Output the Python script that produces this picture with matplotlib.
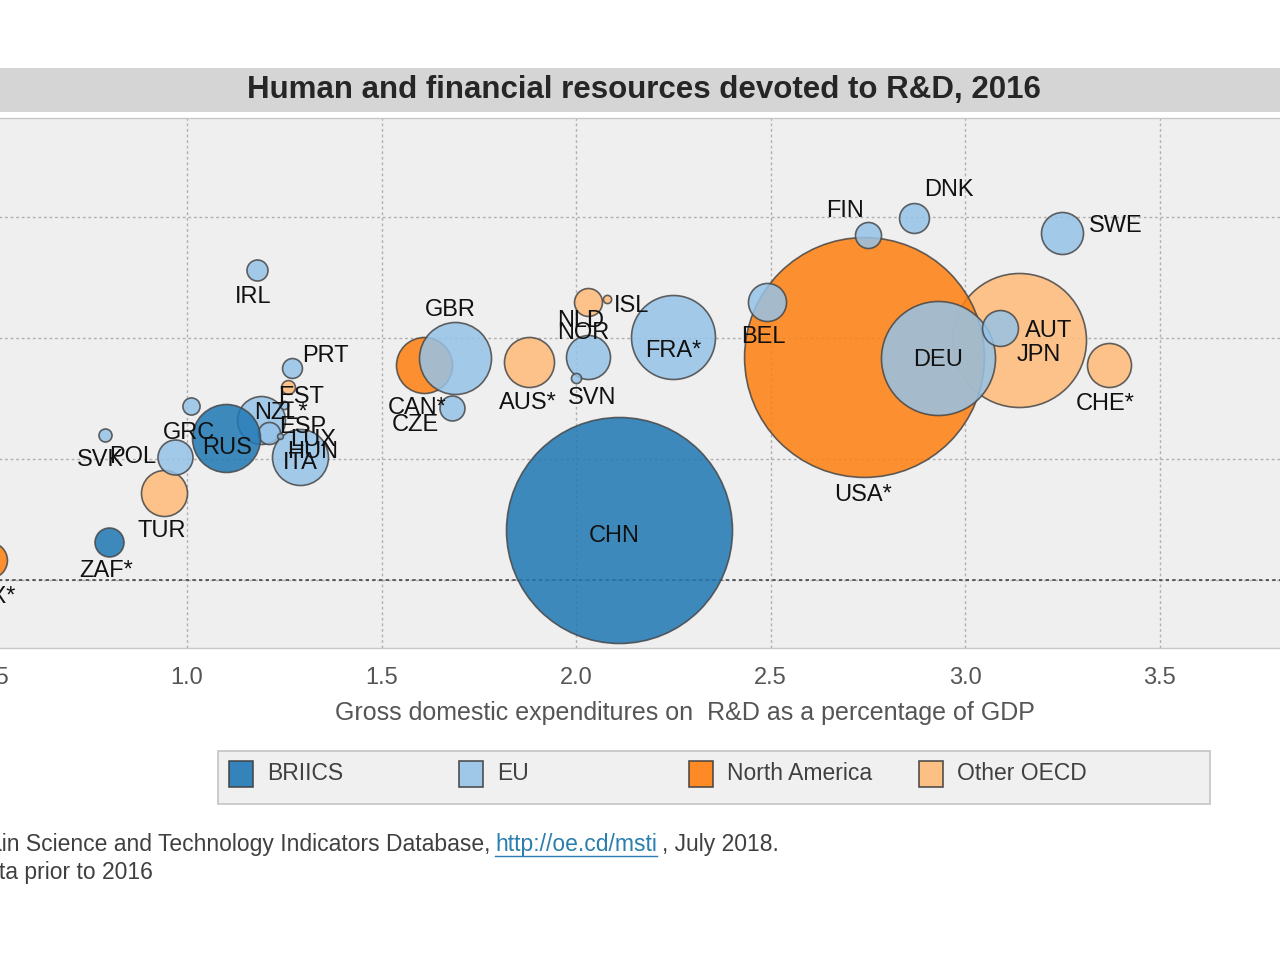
import numpy as np
import matplotlib

matplotlib.use("Agg")
import matplotlib.pyplot as plt
from matplotlib.patches import Rectangle
from matplotlib.lines import Line2D

plt.rcParams["font.family"] = ["Liberation Sans", "DejaVu Sans"]

W, H, DPI = 1280, 960, 100

# data
countries = ["CHN", "RUS", "ZAF",
             "DEU", "FRA", "GBR", "ITA", "ESP", "NLD", "BEL", "SWE", "AUT",
             "DNK", "FIN", "POL", "CZE", "PRT", "IRL", "HUN", "GRC", "SVK",
             "SVN", "EST", "LUX",
             "USA", "CAN", "MEX",
             "JPN", "AUS", "CHE", "TUR", "NOR", "NZL", "ISL"]
labels = ["CHN", "RUS", "ZAF*",
          "DEU", "FRA*", "GBR", "ITA", "ESP", "NLD", "BEL", "SWE", "AUT",
          "DNK", "FIN", "POL", "CZE", "PRT", "IRL", "HUN", "GRC", "SVK",
          "SVN", "EST", "LUX",
          "USA*", "CAN*", "MEX*",
          "JPN", "AUS*", "CHE*", "TUR", "NOR", "NZL*", "ISL"]
groups = ["BRIICS"] * 3 + ["EU"] * 21 + ["North America"] * 3 + ["Other OECD"] * 7
gerd_pct = [2.11, 1.10, 0.80,
            2.93, 2.25, 1.69, 1.29, 1.19, 2.03, 2.49, 3.25, 3.09,
            2.87, 2.75, 0.97, 1.68, 1.27, 1.18, 1.21, 1.01, 0.79,
            2.00, 1.25, 1.24,
            2.74, 1.61, 0.49,
            3.14, 1.88, 3.37, 0.94, 2.03, 1.26, 2.08]
researchers = [2.07, 5.87, 1.57,
               9.17, 10.04, 9.17, 5.08, 6.61, 9.21, 11.49, 14.34, 10.41,
               14.96, 14.26, 5.08, 7.11, 8.76, 12.81, 6.07, 7.19, 5.99,
               8.35, 7.23, 5.95,
               9.21, 8.88, 0.83,
               9.92, 9.01, 8.88, 3.60, 11.49, 7.98, 11.61]
gerd_bn = [451, 40.8, 7.4,
           114.8, 62.3, 45.8, 27.7, 20.3, 17.1, 12.8, 15.6, 11.4,
           7.9, 6.0, 10.8, 5.5, 3.5, 3.9, 4.3, 2.6, 1.5,
           0.9, 0.6, 0.3,
           508, 27.7, 11.4,
           158.6, 22.1, 17.1, 18.7, 6.9, 1.7, 0.6]

group_names = ["BRIICS", "EU", "North America", "Other OECD"]
group_colors = {"BRIICS": "#1f77b4", "EU": "#96c3e8",
                "North America": "#ff7f0e", "Other OECD": "#ffbb78"}
draw_order = ["Other OECD", "North America", "EU", "BRIICS"]

# label offsets from bubble centre, in pixels (y up)
label_offsets = {
    "CHN": (-5, -6), "RUS": (1, -10), "ZAF": (-3, -29),
    "DEU": (0, -2), "FRA": (0, -14), "GBR": (-5, 48), "ITA": (1, -6),
    "ESP": (42, -7), "NLD": (-7, 36), "BEL": (-3, -35), "SWE": (54, 7),
    "AUT": (49, -3), "DNK": (34, 28), "FIN": (-23, 24), "POL": (-43, 0),
    "CZE": (-36, -17), "PRT": (33, 12), "IRL": (-4, -27), "HUN": (44, -19),
    "GRC": (-2, -27), "SVK": (-5, -25), "SVN": (16, -20), "EST": (17, 8),
    "LUX": (33, -4), "USA": (-1, -138), "CAN": (-7, -43), "MEX": (-3, -37),
    "JPN": (19, -15), "AUS": (-1, -41), "CHE": (-4, -39), "TUR": (-2, -38),
    "NOR": (-4, -31), "NZL": (-7, -26), "ISL": (24, -7),
}


def fx(px):
    return px / W


def fy(py):
    return 1 - py / H


fig = plt.figure(figsize=(W / DPI, H / DPI), dpi=DPI)

# title bar
fig.patches.append(Rectangle((0, fy(112)), 1, 44 / H, transform=fig.transFigure,
                             facecolor="#d5d5d5", edgecolor="none", zorder=0))
fig.text(fx(644), fy(90), "Human and financial resources devoted to R&D, 2016",
         ha="center", va="center", fontsize=22.5, fontweight="bold", color="#262626")

ax_left, ax_right, ax_top, ax_bottom = -120, 1285, 118, 648
ax = fig.add_axes([fx(ax_left), fy(ax_bottom), (ax_right - ax_left) / W,
                   (ax_bottom - ax_top) / H])
ax.set_facecolor("#efefef")
ax.set_xlim(1 + (ax_left - 187) / 389, 1 + (ax_right - 187) / 389)
ax.set_ylim((580 - ax_bottom) / 24.2, (580 - ax_top) / 24.2)

ax.set_xticks([0.5, 1.0, 1.5, 2.0, 2.5, 3.0, 3.5])
ax.set_xticklabels(["0.5", "1.0", "1.5", "2.0", "2.5", "3.0", "3.5"])
ax.set_yticks([0, 5, 10, 15])
ax.tick_params(length=0, pad=14, labelsize=17, colors="#555555")
ax.grid(True, color="#b0b0b0", linestyle=(0, (2, 2)), linewidth=1)
ax.axhline(0, color="#444444", linestyle=(0, (2, 2)), linewidth=1.2, zorder=1)
ax.set_axisbelow(True)
for side in ["left", "right"]:
    ax.spines[side].set_visible(False)
for side in ["top", "bottom"]:
    ax.spines[side].set_color("#c8c8c8")
    ax.spines[side].set_linewidth(1)
ax.set_ylabel("Researchers per thousand employment")

# bubbles: area proportional to GERD (bn USD PPP)
px_per_sqrt = 113 / np.sqrt(451)
z = 2
for g in draw_order:
    idx = [i for i in range(len(countries)) if groups[i] == g]
    idx.sort(key=lambda i: -gerd_bn[i])
    for i in idx:
        r_px = px_per_sqrt * np.sqrt(gerd_bn[i])
        s = (2 * r_px * 72 / DPI) ** 2
        ax.scatter(gerd_pct[i], researchers[i], s=s, color=group_colors[g],
                   alpha=0.85, edgecolor="#474747", linewidth=1.2, zorder=z)
        z += 1

for i, c in enumerate(countries):
    dx, dy = label_offsets[c]
    ax.annotate(labels[i], (gerd_pct[i], researchers[i]),
                xytext=(dx * 72 / DPI, dy * 72 / DPI), textcoords="offset points",
                ha="center", va="center", fontsize=17, color="#111111",
                zorder=100)

fig.text(fx(685), fy(713),
         "Gross domestic expenditures on  R&D as a percentage of GDP",
         ha="center", va="center", fontsize=18, color="#555555")

# legend box
fig.patches.append(Rectangle((fx(218), fy(804)), 992 / W, 53 / H,
                             transform=fig.transFigure, facecolor="#f0f0f0",
                             edgecolor="#c4c4c4", linewidth=1.2))
for k, g in enumerate(group_names):
    x0 = 229 + 230 * k
    fig.patches.append(Rectangle((fx(x0), fy(787)), 24 / W, 26 / H,
                                 transform=fig.transFigure,
                                 facecolor=group_colors[g], alpha=0.9,
                                 edgecolor="#404040", linewidth=1.2))
    fig.text(fx(x0 + 38), fy(774), g, ha="left", va="center",
             fontsize=16.5, color="#404040")

# source notes
fig.text(fx(490), fy(845),
         "Source: OECD, Main Science and Technology Indicators Database,",
         ha="right", va="center", fontsize=16.5, color="#404040")
link = fig.text(fx(495), fy(845), "http://oe.cd/msti", ha="left", va="center",
                fontsize=16.5, color="#2a7fae")
fig.text(fx(662), fy(845), ", July 2018.", ha="left", va="center",
         fontsize=16.5, color="#404040")
fig.text(fx(153), fy(872), "Note: * data prior to 2016", ha="right",
         va="center", fontsize=16.5, color="#404040")

fig.canvas.draw()
bb = link.get_window_extent()
fig.add_artist(Line2D([bb.x0, bb.x1], [bb.y0 + 1, bb.y0 + 1],
                      transform=None, color="#2a7fae", linewidth=1))

fig.savefig("out.png", dpi=DPI)
